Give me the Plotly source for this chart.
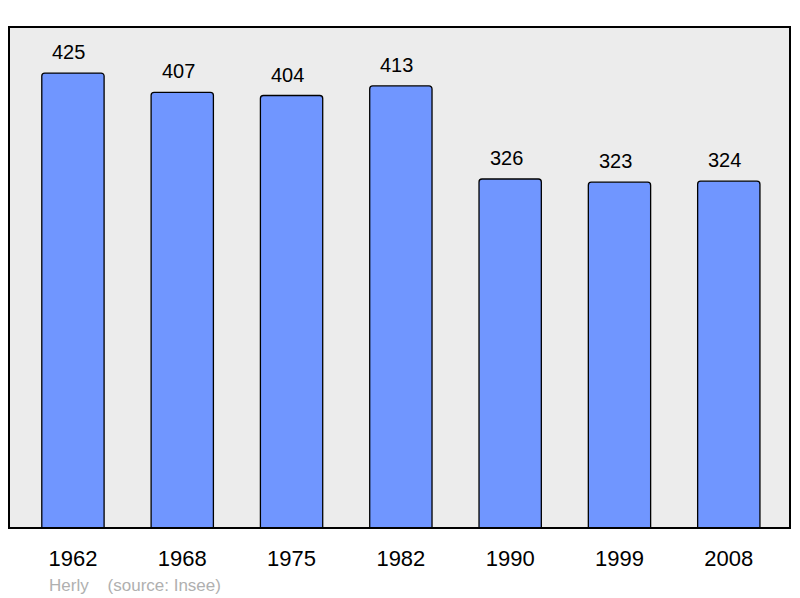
import plotly.graph_objects as go

years = ["1962", "1968", "1975", "1982", "1990", "1999", "2008"]
population = [425, 407, 404, 413, 326, 323, 324]
commune = "Herly"
source = "(source: Insee)"

W, H = 800, 598
ml, mr, mt, mb = 9, 10, 27, 70
pw = W - ml - mr
ph = H - mt - mb

fig = go.Figure()
fig.add_trace(go.Bar(
    x=list(range(len(years))), y=population,
    width=0.57,
    marker=dict(color="#7096ff", line=dict(color="#000000", width=1.3), cornerradius=3),
    hoverinfo="skip",
))

for i, v in enumerate(population):
    fig.add_annotation(x=i, y=v, text=str(v), showarrow=False, yanchor="bottom",
                       yshift=8, xshift=-4,
                       font=dict(family="Liberation Sans, Arial", size=20, color="#000"))

fig.add_annotation(xref="paper", yref="paper", x=(47 - ml) / pw, y=-(585 - (H - mb)) / ph,
                   xanchor="left", yanchor="middle", showarrow=False,
                   text=commune + "    " + source,
                   font=dict(family="Liberation Sans, Arial", size=17, color="#b0b0b0"))

fig.add_shape(type="rect", xref="paper", yref="paper", x0=0, y0=0, x1=1, y1=1,
              line=dict(color="#000", width=2), layer="above", fillcolor="rgba(0,0,0,0)")

fig.update_layout(
    width=W, height=H,
    margin=dict(l=ml, r=mr, t=mt, b=mb),
    paper_bgcolor="#ffffff", plot_bgcolor="#ececec",
    showlegend=False,
    xaxis=dict(range=[-0.585, 6.56], tickmode="array", tickvals=list(range(len(years))),
               ticktext=years, showgrid=False, zeroline=False, ticks="outside",
               ticklen=11, tickcolor="rgba(0,0,0,0)",
               tickfont=dict(family="Liberation Sans, Arial", size=22, color="#000")),
    yaxis=dict(range=[0, 468], showgrid=False, zeroline=False, showticklabels=False),
)

fig.write_html("out.html", config={"displayModeBar": False},
               post_script="document.body.style.margin='0';document.body.style.overflow='hidden';")
